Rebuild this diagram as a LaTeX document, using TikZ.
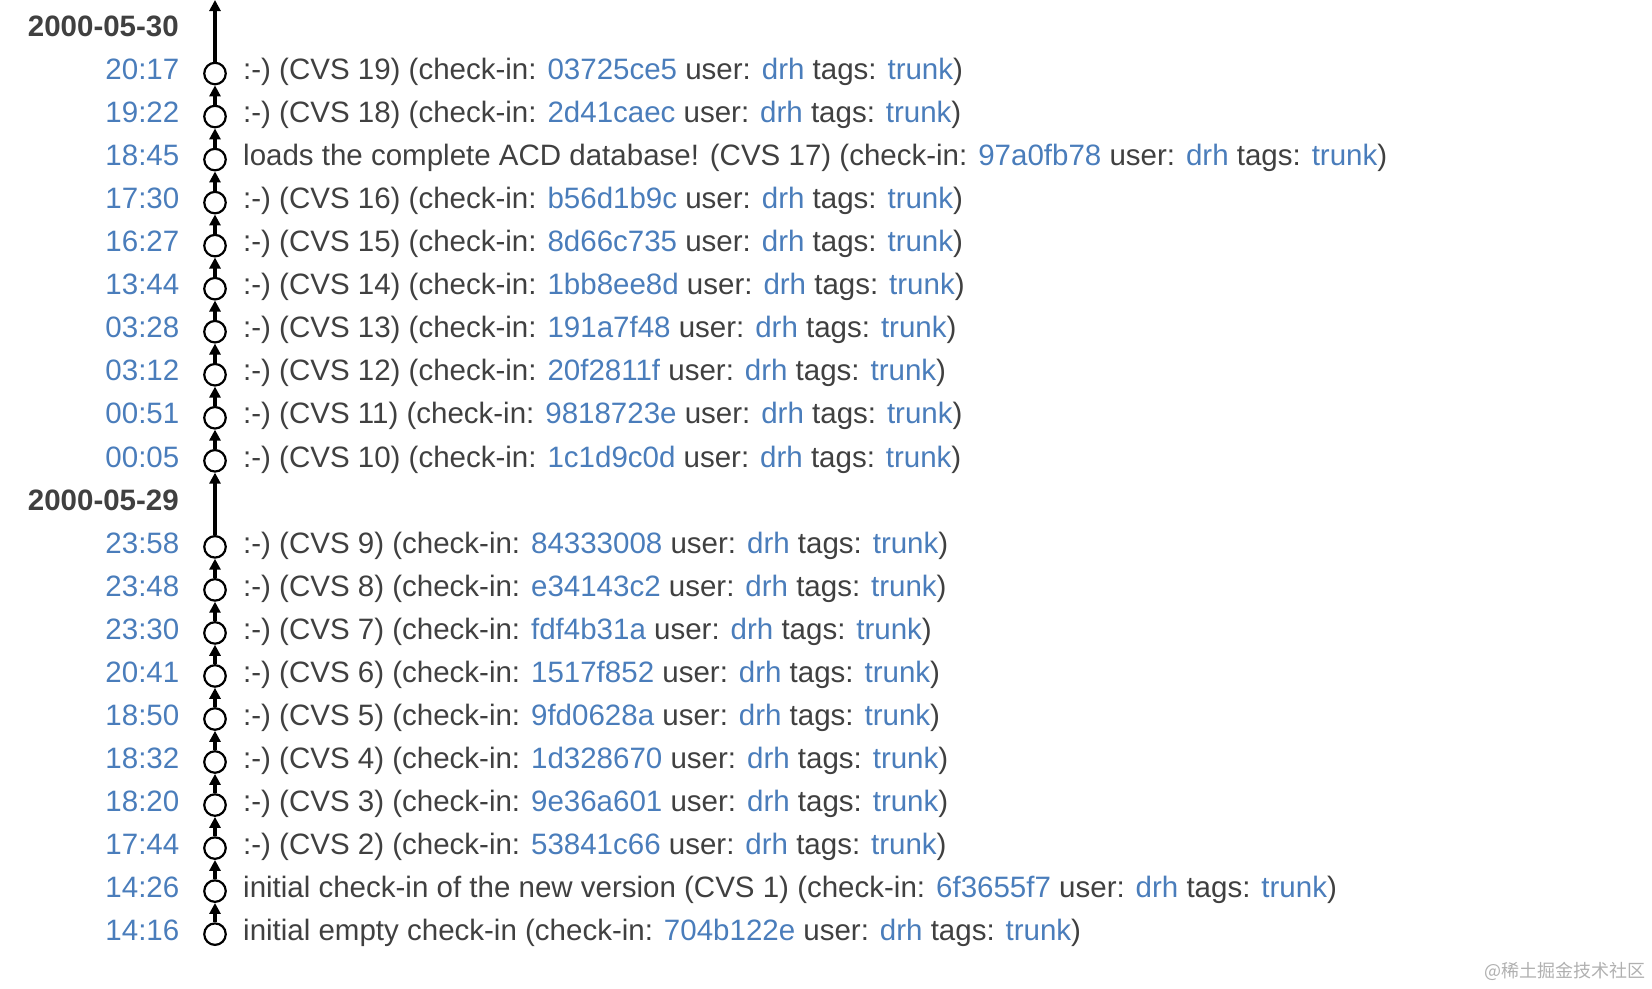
\documentclass[tikz,border=0pt]{standalone}
\usepackage{fontspec}
\setmainfont{Liberation Sans}
\newfontfamily\cjk{Noto Sans CJK SC}
\usetikzlibrary{arrows.meta}
\definecolor{txt}{HTML}{404040}
\definecolor{lnk}{HTML}{4A7DBB}
\definecolor{wm}{HTML}{B0B0B0}
\newcommand\lk[1]{\textcolor{lnk}{#1}}
\tikzset{
  timestyle/.style={anchor=base east,inner sep=0pt,text=lnk,font=\fontsize{29.5}{34}\selectfont},
  datestyle/.style={anchor=base east,inner sep=0pt,text=txt,font=\fontsize{29.5}{34}\selectfont\bfseries},
  msgstyle/.style={anchor=base west,inner sep=0pt,text=txt,font=\fontsize{29.5}{34}\selectfont},
  circ/.style={circle,draw=black,fill=white,line width=2.2pt,minimum size=21.5pt,inner sep=0pt},
  arr/.style={line width=3.2pt,-{Triangle[width=11pt,length=11pt]}},
}
\newcommand\entry[4]{%
  \node[timestyle] (t#1) at (179.5,{36.7+43.03*#1}) {#2};
  \node[circ] (c#1) at (215,{30.5+43.03*#1}) {};
  \node[msgstyle] (m#1) at (243,{36.7+43.03*#1}) {#3 (check-in: \lk{#4} user: \lk{drh} tags: \lk{trunk})};
}
\begin{document}
\begin{tikzpicture}[x=1pt,y=-1pt]
\useasboundingbox (0,0) rectangle (1652,988);
\node[datestyle] (d0) at (179,{36.7}) {2000-05-30};
\entry{1}{20:17}{:-) (CVS 19)}{03725ce5}
\entry{2}{19:22}{:-) (CVS 18)}{2d41caec}
\entry{3}{18:45}{loads the complete ACD database! (CVS 17)}{97a0fb78}
\entry{4}{17:30}{:-) (CVS 16)}{b56d1b9c}
\entry{5}{16:27}{:-) (CVS 15)}{8d66c735}
\entry{6}{13:44}{:-) (CVS 14)}{1bb8ee8d}
\entry{7}{03:28}{:-) (CVS 13)}{191a7f48}
\entry{8}{03:12}{:-) (CVS 12)}{20f2811f}
\entry{9}{00:51}{:-) (CVS 11)}{9818723e}
\entry{10}{00:05}{:-) (CVS 10)}{1c1d9c0d}
\node[datestyle] (d11) at (179,{36.7+43.03*11}) {2000-05-29};
\entry{12}{23:58}{:-) (CVS 9)}{84333008}
\entry{13}{23:48}{:-) (CVS 8)}{e34143c2}
\entry{14}{23:30}{:-) (CVS 7)}{fdf4b31a}
\entry{15}{20:41}{:-) (CVS 6)}{1517f852}
\entry{16}{18:50}{:-) (CVS 5)}{9fd0628a}
\entry{17}{18:32}{:-) (CVS 4)}{1d328670}
\entry{18}{18:20}{:-) (CVS 3)}{9e36a601}
\entry{19}{17:44}{:-) (CVS 2)}{53841c66}
\entry{20}{14:26}{initial check-in of the new version (CVS 1)}{6f3655f7}
\entry{21}{14:16}{initial empty check-in}{704b122e}
\coordinate (top) at (215,0);
\draw[arr] (c1) -- (top);
\foreach \a/\b in {2/1,3/2,4/3,5/4,6/5,7/6,8/7,9/8,10/9,12/10,13/12,14/13,15/14,16/15,17/16,18/17,19/18,20/19,21/20}
  \draw[arr] (c\a) -- (c\b);
\node[anchor=base east,inner sep=0pt,text=wm,font=\cjk\fontsize{18}{20}\selectfont] (wmk) at (1646,977) {@稀土掘金技术社区};
\end{tikzpicture}
\end{document}
